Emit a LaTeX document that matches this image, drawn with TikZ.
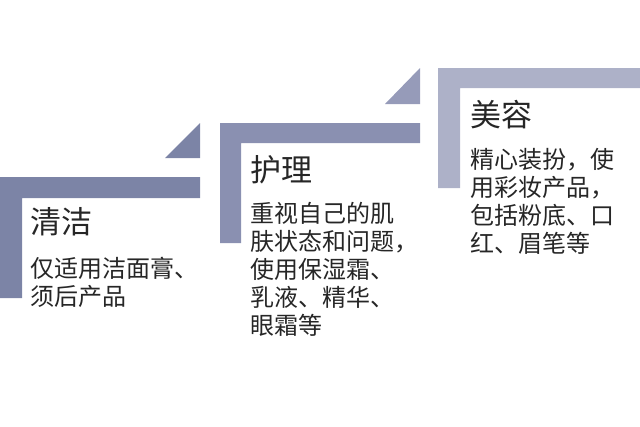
\documentclass[tikz,border=0pt]{standalone}
\usepackage{fontspec}
\newfontfamily\cjk{Noto Sans CJK SC}
\begin{document}
\begin{tikzpicture}[x=1pt,y=-1pt,
  ttl/.style={anchor=west,inner sep=0pt,font=\cjk\fontsize{31}{36}\selectfont,text=black!85},
  bdy/.style={anchor=north west,inner sep=0pt,align=left,font=\cjk\fontsize{24}{28}\selectfont,text=black!85}]
\useasboundingbox (0,0) rectangle (640,426);
\definecolor{c1}{HTML}{7C84A6}
\definecolor{c2}{HTML}{8A90B1}
\definecolor{c3}{HTML}{ADB1C8}
% step 1
\fill[c1] (0,177) -- (200,177) -- (200,198) -- (22,198) -- (22,298) -- (0,298) -- cycle;
\fill[c1] (200,123) -- (200,158) -- (165,158) -- cycle;
% step 2
\fill[c2] (220,123) -- (420,123) -- (420,143) -- (241,143) -- (241,243) -- (220,243) -- cycle;
\fill[c2!90!white] (420,68) -- (420,104) -- (385,104) -- cycle;
% step 3
\fill[c3] (438,68) -- (640,68) -- (640,88) -- (460,88) -- (460,188) -- (438,188) -- cycle;
\node[ttl] (t1) at (30,222) {清洁};
\node[bdy] (b1) at (30,257) {仅适用洁面膏、\\须后产品};
\node[ttl] (t2) at (250,170) {护理};
\node[bdy] (b2) at (250,202) {重视自己的肌\\肤状态和问题，\\使用保湿霜、\\乳液、精华、\\眼霜等};
\node[ttl] (t3) at (470,115) {美容};
\node[bdy] (b3) at (470,148) {精心装扮，使\\用彩妆产品，\\包括粉底、口\\红、眉笔等};
\end{tikzpicture}
\end{document}
